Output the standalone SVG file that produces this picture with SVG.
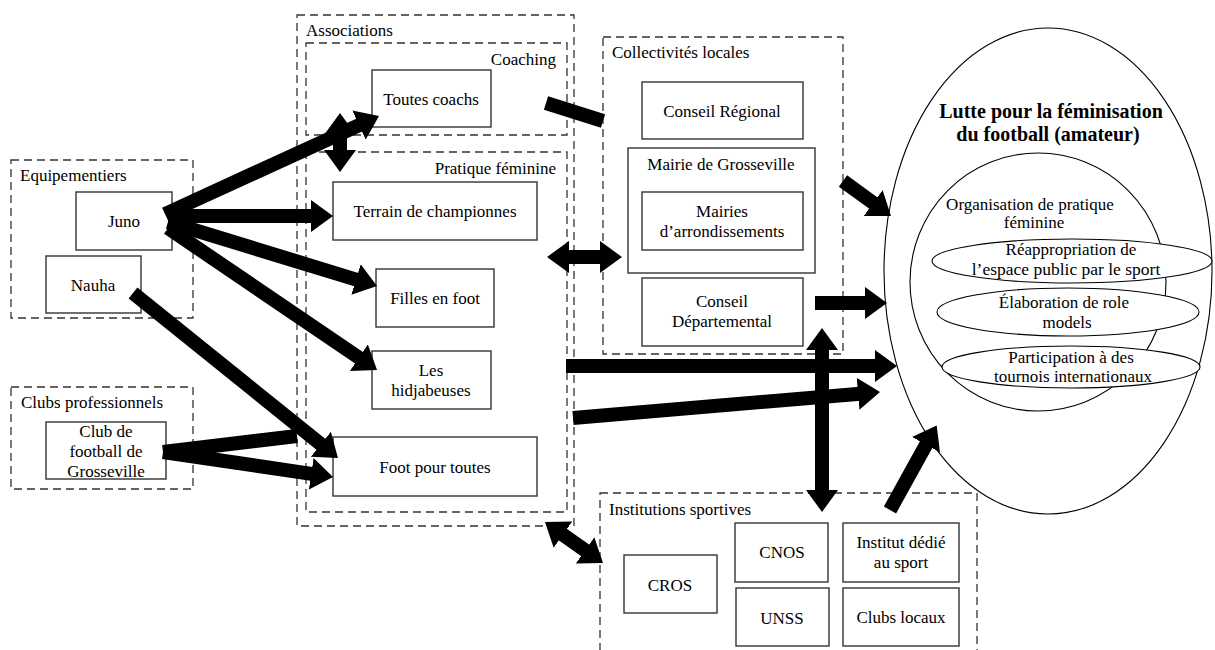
<svg xmlns="http://www.w3.org/2000/svg" width="1215" height="650" viewBox="0 0 1215 650">
<style>
text{font-family:"Liberation Serif","Times New Roman",serif;font-size:17px;fill:#000}
.c{text-anchor:middle}
.e{text-anchor:end}
.b{font-weight:bold;font-size:20px}
.grp{fill:none;stroke:#333;stroke-width:1.3;stroke-dasharray:8 5}
.box{fill:#fff;stroke:#333;stroke-width:1.4}
.ell{fill:#fff;stroke:#000;stroke-width:1.1}
.arr{fill:none;stroke:#000;stroke-width:14;stroke-linecap:butt}
.h{marker-end:url(#ah)}
.hh{marker-start:url(#ah);marker-end:url(#ah)}
</style>
<defs>
<marker id="ah" viewBox="0 0 22 32" refX="2" refY="16" markerWidth="22" markerHeight="32" markerUnits="userSpaceOnUse" orient="auto-start-reverse">
<path d="M0,0 L22,16 L0,32 Z" fill="#000"/>
</marker>
</defs>
<rect width="1215" height="650" fill="#fff"/>

<g id="equipementiers">
<rect class="grp" x="11" y="160" width="182" height="158"/>
<text x="20" y="181">Equipementiers</text>
</g>
<g id="juno"><rect class="box" x="76" y="192" width="96" height="58"/><text class="c" x="124" y="227">Juno</text></g>
<g id="nauha"><rect class="box" x="46" y="256" width="95" height="57"/><text class="c" x="93" y="291">Nauha</text></g>

<g id="clubs-pro">
<rect class="grp" x="11" y="387" width="182" height="102"/>
<text x="21" y="408">Clubs professionnels</text>
</g>
<g id="club-grosseville"><rect class="box" x="46" y="422" width="120" height="57"/>
<text class="c" x="106" y="437">Club de</text><text class="c" x="106" y="457">football de</text><text class="c" x="106" y="477">Grosseville</text></g>

<g id="associations">
<rect class="grp" x="297" y="15" width="277" height="511"/>
<text x="306" y="36">Associations</text>
</g>
<g id="coaching">
<rect class="grp" x="306" y="43" width="261" height="92"/>
<text class="e" x="556" y="65">Coaching</text>
</g>
<g id="toutes-coachs"><rect class="box" x="372" y="70" width="119" height="57"/><text class="c" x="431" y="105">Toutes coachs</text></g>
<g id="pratique-feminine">
<rect class="grp" x="306" y="152" width="261" height="360"/>
<text class="e" x="556" y="174">Pratique féminine</text>
</g>
<g id="terrain"><rect class="box" x="333" y="182" width="204" height="58"/><text class="c" x="435" y="217">Terrain de championnes</text></g>
<g id="filles"><rect class="box" x="376" y="269" width="118" height="58"/><text class="c" x="435" y="304">Filles en foot</text></g>
<g id="hidjabeuses"><rect class="box" x="372" y="351" width="119" height="58"/><text class="c" x="431" y="376">Les</text><text class="c" x="431" y="396">hidjabeuses</text></g>
<g id="foot-toutes"><rect class="box" x="333" y="437" width="204" height="59"/><text class="c" x="435" y="473">Foot pour toutes</text></g>

<g id="collectivites">
<rect class="grp" x="603" y="37" width="240" height="317"/>
<text x="612" y="58">Collectivités locales</text>
</g>
<g id="conseil-regional"><rect class="box" x="642" y="82" width="161" height="57"/><text class="c" x="722" y="117">Conseil Régional</text></g>
<g id="mairie"><rect class="box" x="628" y="148" width="187" height="125"/><text class="c" x="721" y="170">Mairie de Grosseville</text></g>
<g id="mairies-arr"><rect class="box" x="642" y="192" width="161" height="58"/><text class="c" x="722" y="217">Mairies</text><text class="c" x="722" y="237">d’arrondissements</text></g>
<g id="conseil-dep"><rect class="box" x="642" y="278" width="161" height="68"/><text class="c" x="722" y="307">Conseil</text><text class="c" x="722" y="327">Départemental</text></g>

<g id="institutions">
<rect class="grp" x="600" y="493" width="377" height="170"/>
<text x="609" y="515">Institutions sportives</text>
</g>
<g id="cros"><rect class="box" x="624" y="555" width="93" height="58"/><text class="c" x="670" y="591">CROS</text></g>
<g id="cnos"><rect class="box" x="735" y="523" width="93" height="59"/><text class="c" x="782" y="558">CNOS</text></g>
<g id="unss"><rect class="box" x="736" y="588" width="93" height="58"/><text class="c" x="782" y="624">UNSS</text></g>
<g id="institut"><rect class="box" x="843" y="523" width="116" height="59"/><text class="c" x="901" y="548">Institut dédié</text><text class="c" x="901" y="568">au sport</text></g>
<g id="clubs-locaux"><rect class="box" x="843" y="588" width="116" height="58"/><text class="c" x="901" y="623">Clubs locaux</text></g>

<g id="lutte">
<ellipse class="ell" cx="1048" cy="271" rx="164" ry="243"/>
<text class="c b" x="1051" y="118">Lutte pour la féminisation</text>
<text class="c b" x="1048" y="141">du football (amateur)</text>
</g>
<g id="organisation">
<ellipse class="ell" cx="1038" cy="282" rx="128" ry="129"/>
<text class="c" x="1030" y="210">Organisation de pratique</text>
<text class="c" x="1034" y="228">féminine</text>
</g>
<g id="reappropriation">
<ellipse class="ell" cx="1072" cy="261" rx="140" ry="22"/>
<text class="c" x="1071" y="255">Réappropriation de</text>
<text class="c" x="1066" y="275" style="font-size:17.5px">l’espace public par le sport</text>
</g>
<g id="role-models">
<ellipse class="ell" cx="1068" cy="312" rx="131" ry="24"/>
<text class="c" x="1064" y="308">Élaboration de role</text>
<text class="c" x="1067" y="328">models</text>
</g>
<g id="participation">
<ellipse class="ell" cx="1071" cy="367" rx="129" ry="21"/>
<text class="c" x="1071" y="363">Participation à des</text>
<text class="c" x="1073" y="382">tournois internationaux</text>
</g>

<g id="connectors">
<line class="arr h" x1="165" y1="214" x2="360.8" y2="124.3"/>
<line class="arr h" x1="168" y1="216" x2="313" y2="216"/>
<line class="arr h" x1="168" y1="222" x2="357.9" y2="280.1"/>
<line class="arr h" x1="168" y1="228" x2="360.5" y2="358.8"/>
<line class="arr h" x1="133" y1="293" x2="322.4" y2="445.5"/>
<line class="arr" x1="163" y1="452" x2="297" y2="436"/>
<line class="arr h" x1="163" y1="452" x2="313.2" y2="474.1"/>
<line class="arr hh" x1="340" y1="133" x2="340" y2="152"/>
<line class="arr" x1="546" y1="103" x2="603" y2="121"/>
<line class="arr hh" x1="567" y1="257" x2="602" y2="257"/>
<line class="arr h" x1="843" y1="181" x2="874.8" y2="204.2"/>
<line class="arr h" x1="815" y1="303" x2="867" y2="303"/>
<line class="arr h" x1="566" y1="366" x2="877" y2="366"/>
<line class="arr h" x1="573" y1="418" x2="860.1" y2="393.7"/>
<line class="arr hh" x1="822" y1="348" x2="822" y2="492"/>
<line class="arr h" x1="890" y1="510" x2="927" y2="443"/>
<line class="arr hh" x1="561.3" y1="533.5" x2="586.7" y2="551.5"/>
</g>
</svg>
